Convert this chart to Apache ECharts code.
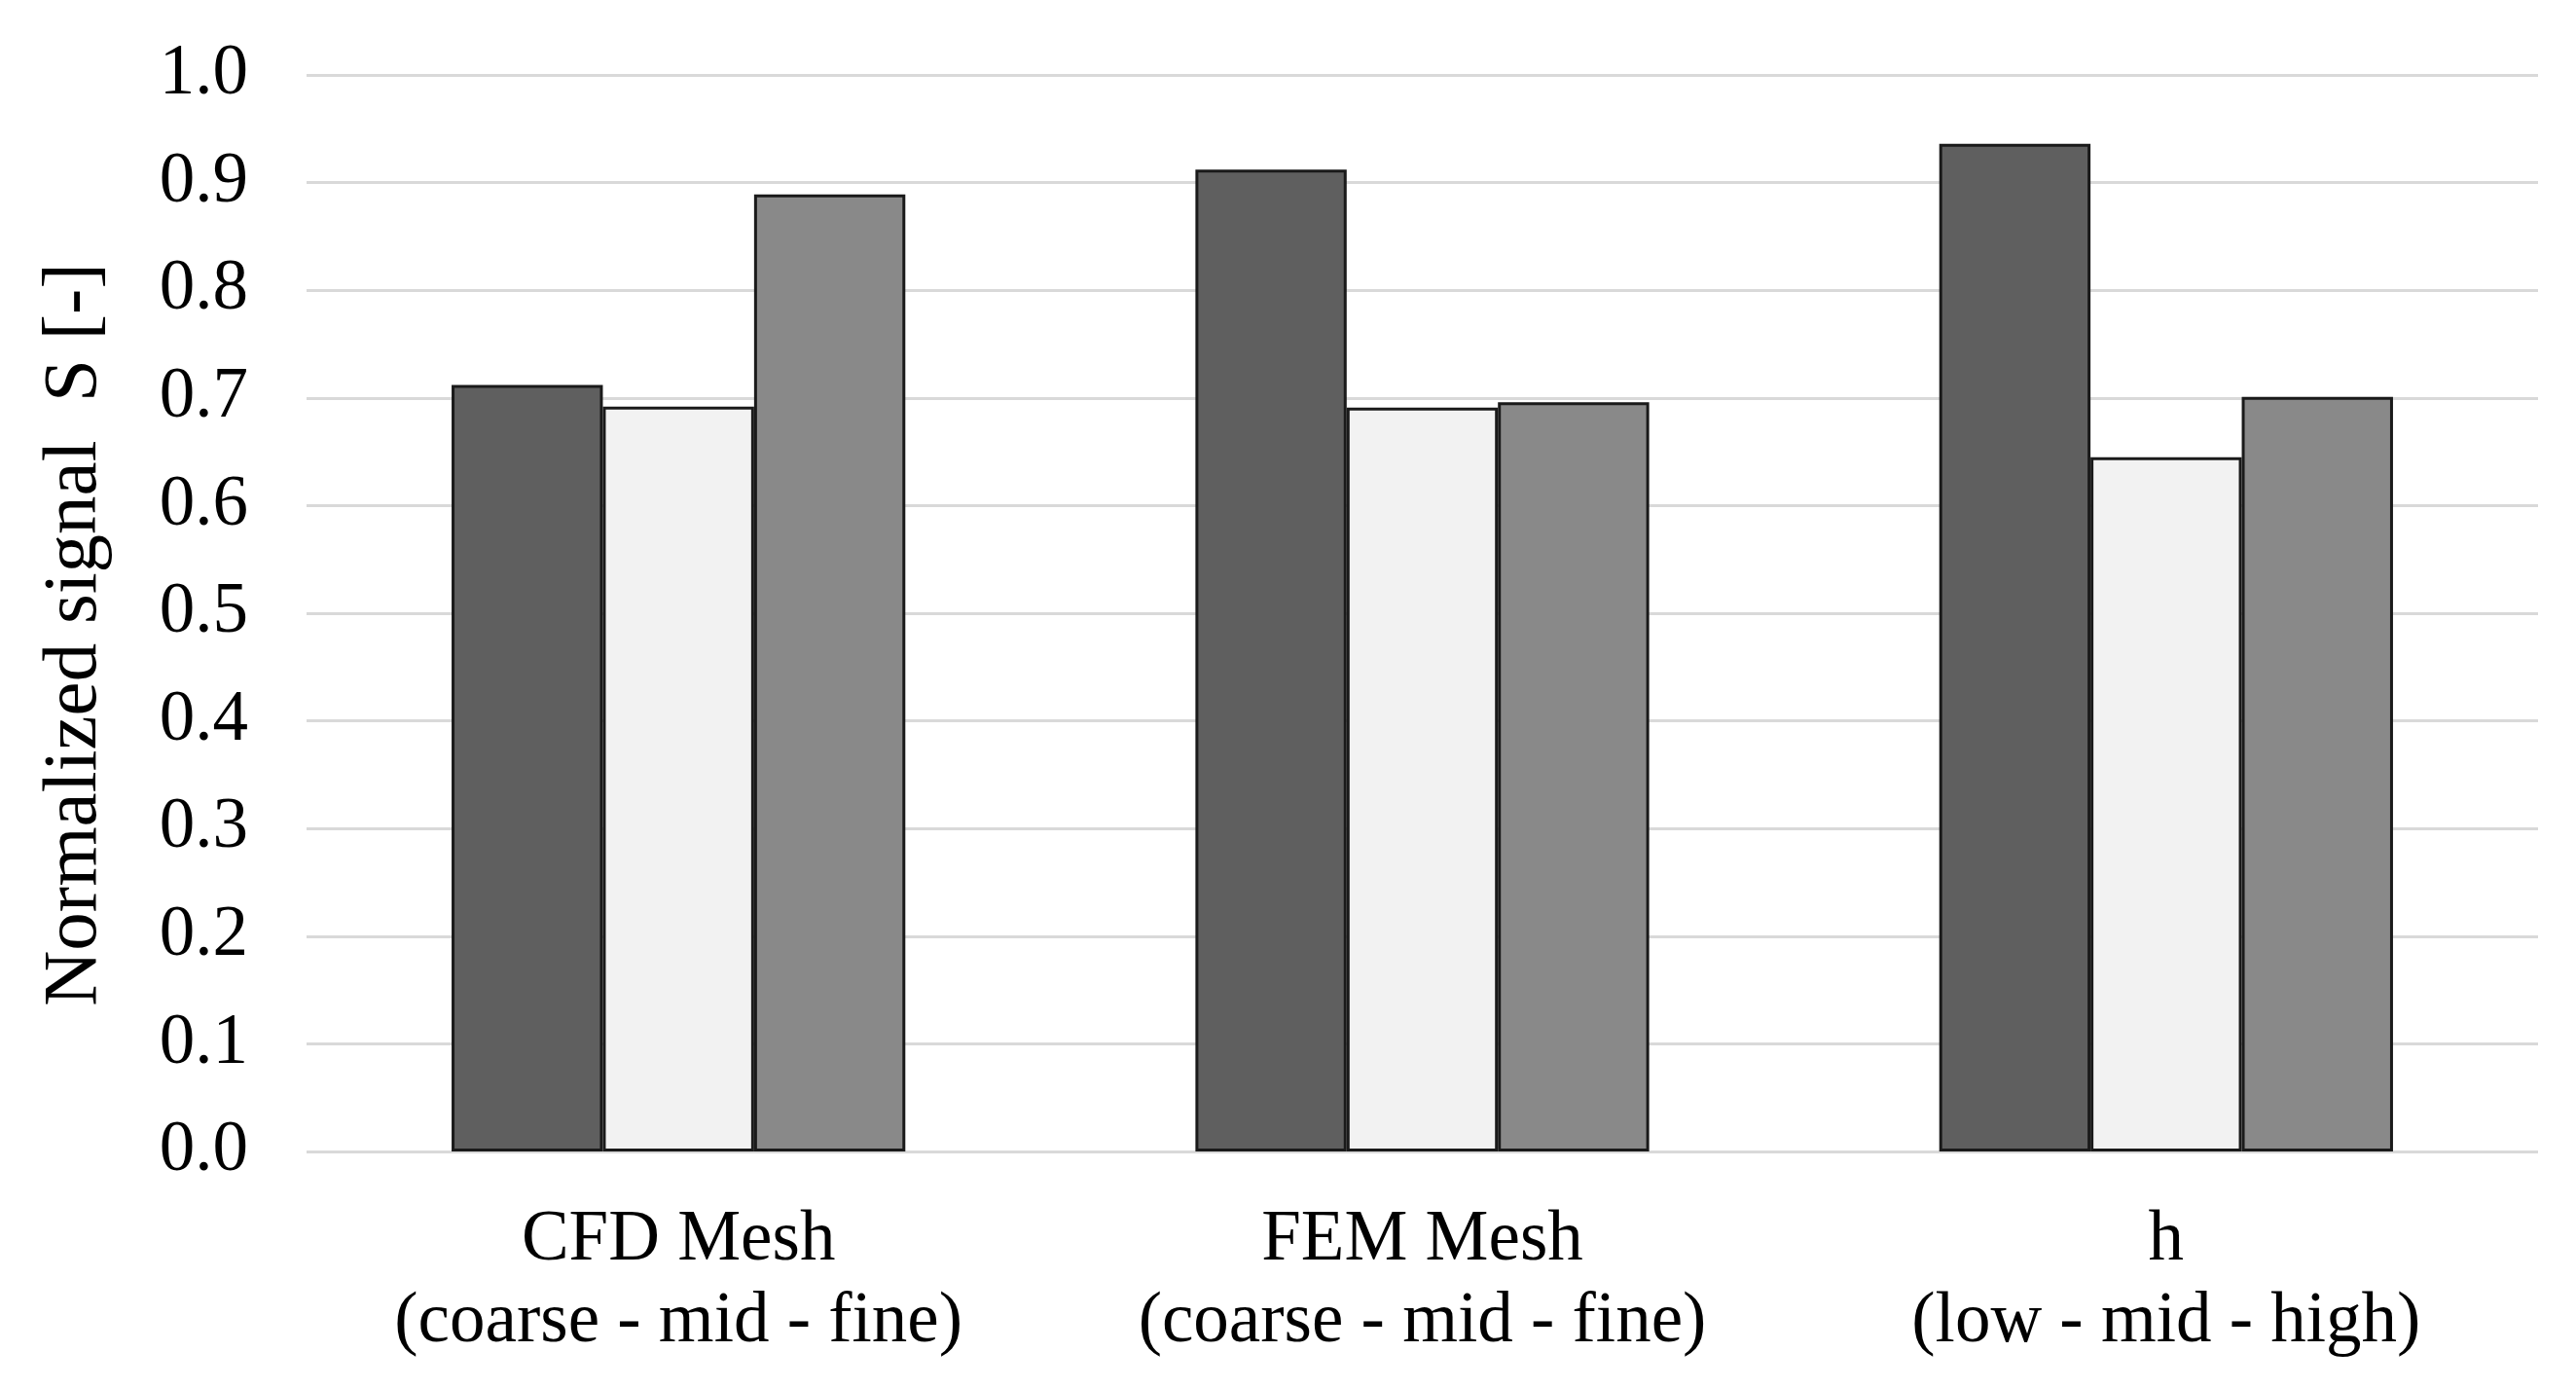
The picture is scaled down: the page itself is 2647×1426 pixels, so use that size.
<!DOCTYPE html>
<html>
<head>
<meta charset="utf-8">
<style>
  html, body { margin: 0; padding: 0; background: #ffffff; }
  #chart { width: 2647px; height: 1426px; }
</style>
<script src="https://cdn.jsdelivr.net/npm/echarts@6/dist/echarts.min.js"></script>
</head>
<body>
<div id="chart"></div>
<script>
const categories = [
  'CFD Mesh\n(coarse - mid - fine)',
  'FEM Mesh\n(coarse - mid - fine)',
  'h\n(low - mid - high)'
];
const seriesLow  = [0.712, 0.912, 0.936];
const seriesMid  = [0.692, 0.691, 0.645];
const seriesHigh = [0.889, 0.696, 0.701];
const yTicks = { min: 0, max: 1.0, interval: 0.1 };
const yTitle = 'Normalized signal  S [-]';

const fontFam = '"Liberation Serif", "DejaVu Serif", serif';
const barBorder = { borderColor: '#1a1a1a', borderWidth: 3 };

const chart = echarts.init(document.getElementById('chart'));
chart.setOption({
  backgroundColor: '#ffffff',
  animation: false,
  grid: { left: 315, right: 39, top: 77, bottom: 243, containLabel: false },
  xAxis: {
    type: 'category',
    data: categories,
    axisLine: { show: false },
    axisTick: { show: false },
    axisLabel: {
      color: '#000000',
      fontFamily: fontFam,
      fontSize: 73,
      lineHeight: 84,
      margin: 50,
      interval: 0
    }
  },
  yAxis: {
    type: 'value',
    min: yTicks.min,
    max: yTicks.max,
    interval: yTicks.interval,
    name: yTitle,
    nameLocation: 'middle',
    nameGap: 198,
    nameTextStyle: { color: '#000000', fontFamily: fontFam, fontSize: 79, padding: [0, 44, 0, 0] },
    axisLine: { show: false },
    axisTick: { show: false },
    axisLabel: {
      color: '#000000',
      fontFamily: fontFam,
      fontSize: 73,
      margin: 60,
      formatter: v => v.toFixed(1)
    },
    splitLine: { show: true, lineStyle: { color: '#d9d9d9', width: 3 } }
  },
  series: [
    { type: 'bar', name: 'low', data: seriesLow, barGap: '0%', barCategoryGap: '39%',
      itemStyle: Object.assign({ color: '#5f5f5f' }, barBorder) },
    { type: 'bar', name: 'mid', data: seriesMid, barGap: '0%', barCategoryGap: '39%',
      itemStyle: Object.assign({ color: '#f2f2f2' }, barBorder) },
    { type: 'bar', name: 'high', data: seriesHigh, barGap: '0%', barCategoryGap: '39%',
      itemStyle: Object.assign({ color: '#898989' }, barBorder) }
  ]
});
</script>
</body>
</html>
